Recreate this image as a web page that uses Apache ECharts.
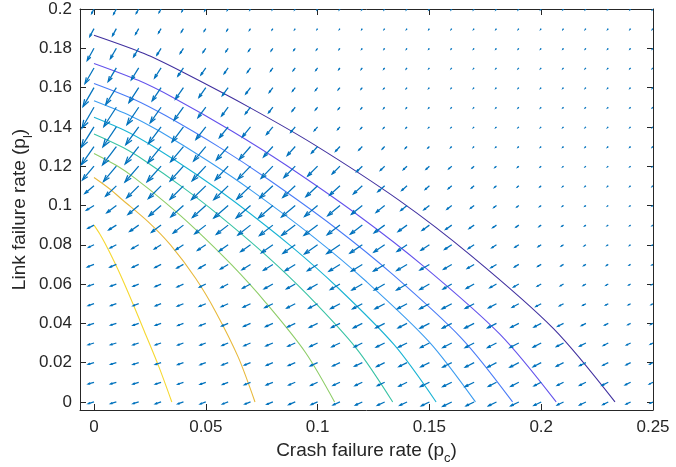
<!DOCTYPE html>
<html>
<head>
<meta charset="utf-8">
<script src="https://cdn.jsdelivr.net/npm/echarts@6/dist/echarts.min.js"></script>
<style>
  html, body { margin: 0; padding: 0; background: #fff; }
  #main { width: 676px; height: 467px; }
</style>
</head>
<body>
<div id="main"></div>
<script>
// grid of the vector field
const pc = [0, 0.01, 0.02, 0.03, 0.04, 0.05, 0.06, 0.07, 0.08, 0.09, 0.1, 0.11, 0.12,
  0.13, 0.14, 0.15, 0.16, 0.17, 0.18, 0.19, 0.2, 0.21, 0.22, 0.23, 0.24, 0.25];
const pl = [0, 0.01, 0.02, 0.03, 0.04, 0.05, 0.06, 0.07, 0.08, 0.09, 0.1,
  0.11, 0.12, 0.13, 0.14, 0.15, 0.16, 0.17, 0.18, 0.19, 0.2];

// arrow length, one row per pl value (bottom row first)
const arrowLen = [
  [6, 6, 6, 6, 6, 6, 6, 6, 6.5, 7, 7, 7.5, 7.5, 8, 8, 9, 10, 9, 9, 9, 8, 7, 7, 6, 5, 3],
  [6, 6, 6, 6, 6, 6, 6, 6.5, 7, 7, 7.5, 7.5, 8, 8, 9, 10, 10, 10, 9, 9, 8, 7, 7, 7, 6, 4],
  [6, 6, 6, 6, 6, 6, 6.5, 6.5, 7, 7.5, 8, 8, 8.5, 9, 9, 9.5, 10, 10, 10, 10, 9, 8, 7, 6, 5, 3.5],
  [6, 6, 6, 6, 6, 6, 6.5, 7, 7.5, 8, 8.5, 9, 9, 9.5, 9.5, 10, 10, 10, 10, 10, 9, 8, 7, 5.5, 4.5, 3],
  [6, 6, 6, 6, 6, 6.5, 7, 7.5, 8, 8.5, 9, 9.5, 10, 10, 10, 10.5, 10.5, 10.5, 10, 9, 8, 6.5, 5, 4, 3, 2.5],
  [6, 6, 6, 6, 6.5, 7, 7.5, 8, 9, 9.5, 10, 10.5, 11, 11, 11, 11, 11, 10, 9, 7.5, 6, 4.5, 3.5, 3, 2.5, 2],
  [6, 6, 6, 6.5, 7, 7, 8, 9, 10, 10, 11, 11, 12, 12, 12, 11, 10, 9, 7.5, 6, 4.5, 3.5, 3, 2.5, 2, 1.5],
  [7, 7, 7, 7, 7.5, 8, 9, 10, 11, 12, 12, 13, 13, 13, 12, 11, 9.5, 8, 6.5, 5, 4, 3, 2.5, 2, 1.5, 1.2],
  [6, 7, 8, 8, 9, 10, 11, 12, 14, 15, 16, 16, 15, 13, 12, 10, 8.5, 7, 5.5, 4.5, 3.5, 2.5, 2, 1.5, 1.2, 1],
  [7, 9, 11, 12, 13, 14, 15, 16, 17, 17, 17, 16, 15, 13, 11, 9, 7.5, 6, 4.5, 3.5, 2.5, 2, 1.5, 1.2, 1, 1],
  [9, 12, 14, 16, 17, 18, 19, 19, 19, 18, 17, 16, 14, 11, 8, 7, 6, 4.5, 3.3, 2.5, 2, 1.5, 1.2, 1, 1, 1],
  [12, 15, 17, 18, 19, 20, 20, 19, 18, 17, 16, 14, 12, 9, 7, 5.5, 4.5, 3.5, 2.7, 2, 1.7, 1.3, 1.1, 1, 1, 1],
  [18, 20, 21, 21, 20, 20, 19, 18, 17, 16, 14, 11, 8, 6, 5, 4.5, 4, 2.7, 2, 1.7, 1.3, 1.1, 1, 1, 1, 1],
  [22, 23, 22, 21, 20, 19, 18, 17, 14, 12, 9, 6.5, 5, 3.5, 2.5, 2, 1.5, 1.2, 1, 1, 1, 1, 1, 1, 1, 1],
  [24, 24, 22, 21, 19, 16, 14, 13, 10, 7, 5, 3.5, 2.5, 2, 1.5, 1.2, 1, 1, 1, 1, 1, 1, 1, 1, 1, 1],
  [24, 23, 21, 19, 16, 13, 11, 8.5, 7, 5, 3.5, 2.7, 2, 1.6, 1.3, 1.1, 1, 1, 1, 1, 1, 1, 1, 1, 1, 1],
  [22, 20, 18, 16, 14, 12, 10, 8, 6, 4.5, 3.5, 2.7, 2, 1.6, 1.3, 1.1, 1, 1, 1, 1, 1, 1, 1, 1, 1, 1],
  [18, 16, 14, 12, 10, 8.5, 7, 5.5, 4, 3.5, 3, 2, 1.8, 1.5, 1.3, 1, 1, 1, 1, 1, 1, 1, 1, 1, 1, 1],
  [14, 12, 10, 8, 6, 5, 4, 3.5, 3, 2.5, 2, 1.5, 1.2, 1, 1, 1, 1, 1, 1, 1, 1, 1, 1, 1, 1, 1],
  [9, 8, 6.5, 5, 4, 3, 2.5, 2, 1.5, 1.2, 1, 1, 1, 1, 1, 1, 1, 1, 1, 1, 1, 1, 1, 1, 1, 1],
  [5, 6, 5, 4, 3, 2, 1.5, 1.2, 1, 1, 1, 1, 1, 1, 1, 1, 1, 1, 1, 1, 1, 1, 1, 1, 1, 1]
];

// arrow angle in degrees below the horizontal (arrows point left-down)
const arrowAng = [
  [16, 16, 17, 18, 19, 20, 20, 21, 22, 23, 23, 24, 25, 25, 25, 26, 26, 26, 26, 26, 26, 26, 26, 26, 26, 26],
  [16, 16, 17, 18, 19, 20, 21, 22, 22, 23, 24, 24, 25, 25, 26, 26, 26, 26, 27, 27, 27, 26, 26, 26, 26, 26],
  [16, 17, 18, 18, 19, 20, 21, 22, 23, 23, 24, 25, 25, 26, 26, 26, 26, 27, 27, 27, 27, 27, 26, 26, 26, 26],
  [17, 17, 18, 19, 20, 21, 22, 23, 23, 24, 25, 25, 26, 26, 26, 27, 27, 27, 27, 27, 27, 27, 27, 27, 26, 26],
  [17, 18, 19, 20, 21, 22, 23, 24, 24, 25, 26, 26, 27, 27, 27, 27, 27, 27, 27, 27, 27, 27, 27, 27, 27, 27],
  [18, 19, 20, 21, 22, 23, 24, 25, 26, 27, 27, 28, 28, 28, 28, 28, 28, 28, 28, 28, 28, 28, 28, 28, 27, 27],
  [19, 20, 22, 23, 25, 26, 27, 28, 29, 29, 29, 30, 30, 30, 30, 30, 30, 29, 29, 29, 29, 29, 29, 28, 28, 28],
  [21, 23, 25, 27, 29, 30, 31, 32, 32, 32, 32, 32, 32, 31, 31, 31, 31, 31, 31, 30, 30, 30, 30, 30, 29, 29],
  [25, 27, 30, 32, 33, 34, 35, 35, 35, 35, 35, 34, 34, 34, 34, 33, 33, 33, 33, 32, 32, 32, 32, 31, 31, 31],
  [28, 32, 35, 37, 38, 38, 38, 38, 38, 37, 37, 37, 37, 36, 36, 36, 35, 35, 35, 35, 34, 34, 34, 33, 33, 33],
  [32, 37, 40, 41, 42, 42, 41, 41, 41, 40, 40, 40, 39, 39, 39, 38, 38, 38, 37, 37, 37, 36, 36, 36, 35, 35],
  [40, 44, 45, 45, 45, 44, 44, 44, 43, 43, 43, 42, 42, 41, 41, 41, 40, 40, 40, 39, 39, 39, 38, 38, 38, 37],
  [50, 50, 49, 48, 48, 47, 47, 46, 46, 45, 45, 45, 44, 44, 43, 43, 42, 42, 41, 41, 41, 40, 40, 40, 39, 39],
  [55, 53, 52, 51, 50, 50, 49, 49, 48, 48, 47, 47, 46, 46, 45, 45, 44, 44, 43, 43, 42, 42, 42, 41, 41, 41],
  [58, 56, 54, 53, 53, 52, 51, 51, 50, 50, 49, 49, 48, 48, 47, 47, 46, 46, 45, 45, 44, 44, 43, 43, 43, 42],
  [60, 57, 56, 55, 54, 53, 53, 52, 52, 51, 51, 50, 50, 49, 49, 48, 48, 47, 47, 46, 46, 45, 45, 44, 44, 44],
  [60, 58, 57, 56, 55, 55, 54, 53, 53, 52, 52, 51, 51, 50, 50, 49, 49, 48, 48, 47, 47, 46, 46, 46, 45, 45],
  [60, 59, 58, 57, 56, 55, 55, 54, 54, 53, 53, 52, 52, 51, 51, 50, 50, 49, 49, 48, 48, 48, 47, 47, 47, 46],
  [61, 60, 59, 58, 57, 56, 56, 55, 55, 54, 54, 53, 53, 52, 52, 51, 51, 51, 50, 50, 50, 49, 49, 49, 48, 48],
  [62, 61, 60, 59, 58, 57, 57, 56, 56, 55, 55, 54, 54, 53, 53, 53, 52, 52, 52, 51, 51, 51, 50, 50, 50, 50],
  [62, 62, 60, 60, 58, 58, 57, 57, 56, 56, 55, 55, 55, 55, 54, 54, 54, 53, 53, 53, 52, 52, 52, 52, 52, 52]
];

// contour lines, outer (dark) to inner (yellow), from the pc axis up to the pl axis
const levelColors = ['#40309f', '#6453ec', '#4a7cf7', '#3c9cf0', '#1ab4d4',
  '#39c3a5', '#8ecd68', '#e8b93c', '#f6d832'];
const contourX = [
  [0.2330, 0.2055, 0.1685, 0.1365, 0.0990, 0.0705, 0.0396, 0.0224, 0],
  [0.2067, 0.1815, 0.1476, 0.1184, 0.0858, 0.0618, 0.0351, 0.0198, 0],
  [0.1872, 0.1644, 0.1337, 0.1073, 0.0777, 0.0560, 0.0318, 0.0180, 0],
  [0.1706, 0.1498, 0.1218, 0.0978, 0.0708, 0.0510, 0.0290, 0.0164, 0],
  [0.1530, 0.1343, 0.1092, 0.0877, 0.0635, 0.0457, 0.0260, 0.0147, 0],
  [0.1336, 0.1173, 0.0954, 0.0766, 0.0554, 0.0399, 0.0227, 0.0128, 0],
  [0.1076, 0.0945, 0.0768, 0.0617, 0.0447, 0.0322, 0.0183, 0.0103, 0],
  [0.0720, 0.0645, 0.0545, 0.0455, 0.0342, 0.0245, 0.0128, 0.0069, 0],
  [0.0348, 0.0290, 0.0225, 0.0176, 0.0125, 0.0088, 0.0048, 0.0026, 0]
];
const contourY = [
  [0, 0.0373, 0.0746, 0.1026, 0.1306, 0.1493, 0.1679, 0.1773, 0.1866],
  [0, 0.0345, 0.0689, 0.0948, 0.1206, 0.1378, 0.1551, 0.1637, 0.1723],
  [0, 0.0324, 0.0648, 0.0892, 0.1135, 0.1297, 0.1459, 0.1540, 0.1621],
  [0, 0.0307, 0.0613, 0.0843, 0.1073, 0.1226, 0.1380, 0.1456, 0.1533],
  [0, 0.0290, 0.0580, 0.0797, 0.1014, 0.1159, 0.1304, 0.1377, 0.1449],
  [0, 0.0273, 0.0546, 0.0750, 0.0955, 0.1091, 0.1228, 0.1296, 0.1364],
  [0, 0.0253, 0.0506, 0.0696, 0.0886, 0.1012, 0.1139, 0.1202, 0.1265],
  [0, 0.0228, 0.0457, 0.0628, 0.0799, 0.0914, 0.1028, 0.1085, 0.1142],
  [0, 0.0180, 0.0360, 0.0495, 0.0630, 0.0720, 0.0810, 0.0855, 0.0900]
];

const xTicks = [0, 0.05, 0.1, 0.15, 0.2, 0.25];
const yTicks = [0, 0.02, 0.04, 0.06, 0.08, 0.1, 0.12, 0.14, 0.16, 0.18, 0.2];

const FONT = '"Liberation Sans", Arial, Helvetica, sans-serif';
const INK = '#262626';
const ARROW = '#0072bd';

let quiverData = [];
pl.forEach((y, i) => {
  pc.forEach((x, j) => {
    quiverData.push([x, y, arrowLen[i][j], arrowAng[i][j]]);
  });
});

function drawArrow(params, api) {
  let tail = api.coord([api.value(0), api.value(1)]);
  // lengths were read in px at this chart size, keep them relative to the grid step
  let unit = api.size([0.01, 0])[0] / 22.4;
  let len = api.value(2) * unit;
  let a = api.value(3) * Math.PI / 180;
  let dx = -len * Math.cos(a), dy = len * Math.sin(a);
  let tip = [tail[0] + dx, tail[1] + dy];
  let hb = 0.33, hw = 0.33;
  let h1 = [tip[0] - hb * (dx + hw * dy), tip[1] - hb * (dy - hw * dx)];
  let h2 = [tip[0] - hb * (dx - hw * dy), tip[1] - hb * (dy + hw * dx)];
  let st = { stroke: ARROW, lineWidth: 1.25, fill: null };
  return {
    type: 'group',
    children: [
      { type: 'polyline', shape: { points: [tail, tip] }, style: st },
      { type: 'polyline', shape: { points: [h1, tip, h2] }, style: st }
    ]
  };
}

let contourSeries = contourX.map((xs, k) => ({
  type: 'line',
  data: xs.map((x, i) => [x, contourY[k][i]]),
  showSymbol: false,
  smooth: 0.3,
  silent: true,
  z: 2,
  lineStyle: { color: levelColors[k], width: 1.1 }
}));

function axisX(pos, withLabels) {
  return {
    type: 'value', position: pos, min: -0.00626, max: 0.25,
    axisLine: { show: true, onZero: false, lineStyle: { color: INK, width: 1 } },
    axisTick: { show: true, inside: true, length: 6, customValues: xTicks, lineStyle: { color: INK } },
    axisLabel: withLabels ? {
      show: true, customValues: xTicks, margin: 9,
      color: INK, fontSize: 17, fontFamily: FONT
    } : { show: false },
    splitLine: { show: false }
  };
}
function axisY(pos, withLabels) {
  return {
    type: 'value', position: pos, min: -0.0041, max: 0.2,
    axisLine: { show: true, onZero: false, lineStyle: { color: INK, width: 1 } },
    axisTick: { show: true, inside: true, length: 6, customValues: yTicks, lineStyle: { color: INK } },
    axisLabel: withLabels ? {
      show: true, customValues: yTicks, margin: 8,
      color: INK, fontSize: 17, fontFamily: FONT
    } : { show: false },
    splitLine: { show: false }
  };
}

let titleStyle = {
  rich: {
    t: { fontSize: 19, color: INK, fontFamily: FONT, lineHeight: 30, verticalAlign: 'middle' },
    s: { fontSize: 13, color: INK, fontFamily: FONT, lineHeight: 30, verticalAlign: 'bottom' }
  }
};
let xBottom = axisX('bottom', true);
xBottom.name = '{t|Crash failure rate (p}{s|c}{t|)}';
xBottom.nameLocation = 'middle';
xBottom.nameGap = 24;
xBottom.nameTextStyle = titleStyle;
let yLeft = axisY('left', true);
yLeft.name = '{t|Link failure rate (p}{s|l}{t|)}';
yLeft.nameLocation = 'middle';
yLeft.nameGap = 45;
yLeft.nameMoveOverlap = false;
yLeft.nameTextStyle = titleStyle;

let chart = echarts.init(document.getElementById('main'));
let option = {
  animation: false,
  backgroundColor: '#fff',
  grid: { left: 80, top: 9, width: 573, height: 401, containLabel: false, outerBoundsMode: 'none' },
  xAxis: [xBottom, axisX('top', false)],
  yAxis: [yLeft, axisY('right', false)],
  series: contourSeries.concat([{
    type: 'custom',
    renderItem: drawArrow,
    data: quiverData,
    clip: true,
    silent: true,
    z: 3
  }])
};
option && chart.setOption(option);
</script>
</body>
</html>
